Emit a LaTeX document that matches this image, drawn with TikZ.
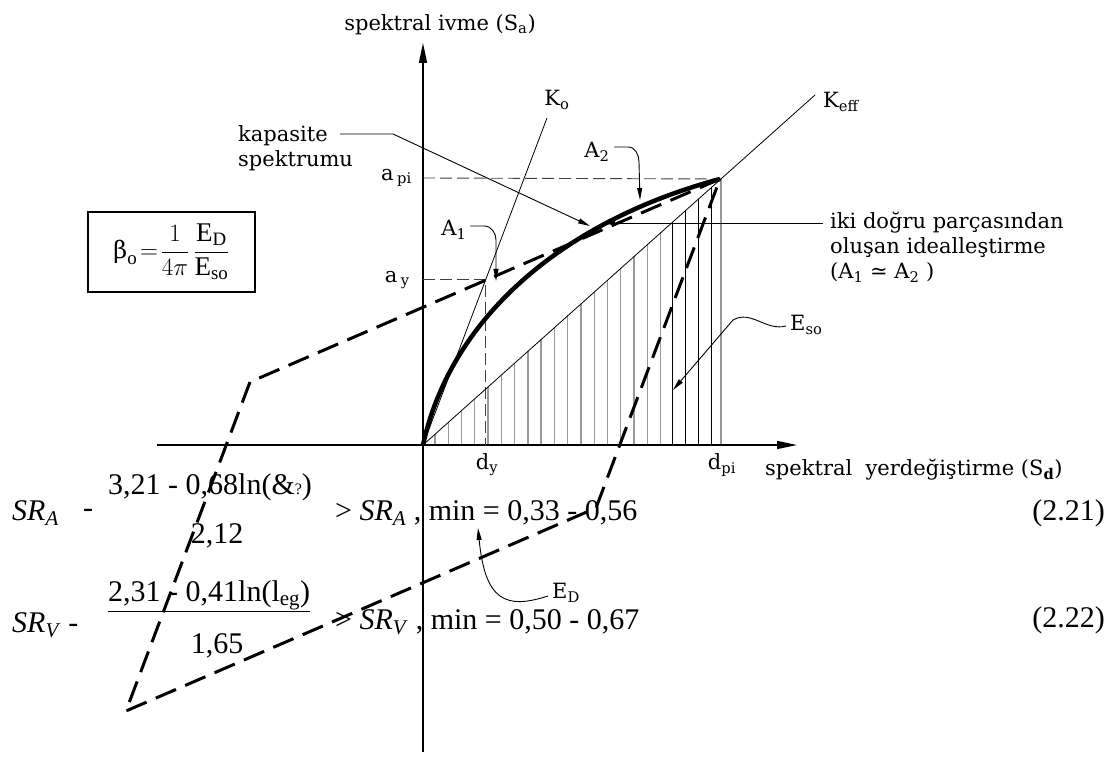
\documentclass[tikz,border=0pt]{standalone}
\usepackage{fontspec}
\setmainfont{Liberation Serif}
\newfontfamily\diag{DejaVu Serif}
\usetikzlibrary{arrows.meta}
\tikzset{
  axis/.style={line width=1.5pt,-{Triangle[length=20pt,width=8pt]}},
  guide/.style={line width=0.9pt,dash pattern=on 12pt off 5pt,black!75},
  thinln/.style={line width=0.8pt},
  bdash/.style={line width=3pt,dash pattern=on 22pt off 10pt},
  curve/.style={line width=4.5pt},
  leader/.style={line width=0.9pt,-{Triangle[length=12pt,width=5pt]}},
  lbl/.style={font=\diag\fontsize{21}{25}\selectfont,inner sep=0pt},
  eq/.style={font=\fontsize{30}{34}\selectfont,inner sep=0pt},
  hatchg/.style={line width=1.3pt,black!40},
  hatchk/.style={line width=0.9pt,black}
}
\begin{document}
\begin{tikzpicture}[x=1pt,y=-1pt]
\useasboundingbox (0,0) rectangle (1109,759);
\fill[white] (0,0) rectangle (1109,759);
% key points
\coordinate (O) at (423,445);
\coordinate (P) at (720,179);
\coordinate (Y) at (485,279);
\coordinate (Q) at (250,382);
\coordinate (R) at (126,711);
\coordinate (S) at (596,508);
\coordinate (vb) at (423,752);
\coordinate (vt) at (423,43);
\coordinate (hl) at (157,445);
\coordinate (hr) at (797,445);
\coordinate (Ko) at (547,118);
\coordinate (Keff) at (815,95);
\coordinate (apiL) at (423,178);
\coordinate (ayL) at (423,279);
\coordinate (dyB) at (485,445);
% hatching of E_so
\foreach \x in {435,448.3,461.5,474.8,488,501.3,514.6,527.9,541.1,554.4,567.7,580.9,594.2,607.5,620.8,634,647.3,660.6,721}{
  \draw[hatchg] (\x,445) -- (\x,{445-(\x-423)*0.8956});
}
\foreach \x in {672,685,698,711}{
  \draw[hatchk] (\x,445) -- (\x,{445-(\x-423)*0.8956});
}
% axes
\draw[axis] (vb) -- (vt);
\draw[axis] (hl) -- (hr);
% guides
\draw[guide] (apiL) -- (P);
\draw[guide] (ayL) -- (Y) -- (dyB);
% stiffness lines
\draw[thinln] (O) -- (Ko);
\draw[thinln] (O) -- (Keff);
% capacity curve
\draw[curve] (O) .. controls (450,320) and (560,222) .. (P);
% hysteresis loop / bilinear idealisation
\draw[bdash] (P) -- (Q) -- (R) -- (S) -- cycle;
% labels
\node[lbl] (ylab) at (440,25) {spektral ivme (S\textsubscript{a})};
\node[lbl,anchor=west] (xlab) at (765,470) {spektral\ \ yerdeğiştirme (S\textsubscript{\textbf{d}})};
\node[lbl] (dy) at (487,465) {d\textsubscript{y}};
\node[lbl] (dpi) at (722,465) {d\textsubscript{pi}};
\node[lbl,anchor=east] (api) at (412,178) {a\,\textsubscript{pi}};
\node[lbl,anchor=east] (ay) at (410,280) {a\,\textsubscript{y}};
\node[lbl] (KoL) at (557,100) {K\textsubscript{o}};
\node[lbl,anchor=west] (KeffL) at (823,102) {K\textsubscript{eff}};
\node[lbl] (A2) at (597,152) {A\textsubscript{2}};
\node[lbl] (A1) at (454,230) {A\textsubscript{1}};
\node[lbl,anchor=west,align=left] (kap) at (238,148) {kapasite\\spektrumu};
\node[lbl,anchor=north west,align=left] (iki) at (830,212) {iki doğru parçasından\\oluşan idealleştirme\\(A\textsubscript{1} ≃ A\textsubscript{2} )};
\node[lbl,anchor=west] (Eso) at (790,325) {E\textsubscript{so}};
\node[lbl,anchor=west] (ED) at (552,593) {E\textsubscript{D}};
% beta box
\node[draw,line width=1.2pt,minimum width=167pt,minimum height=80pt,inner sep=0pt,font=\fontsize{27}{32}\selectfont] (beta) at (171.5,252)
  {$\displaystyle\mbox{\diag\fontsize{24}{28}\selectfont β}_{\mathrm{o}}\!=\!\frac{1}{4\pi}\,\frac{\mathrm{E_D}}{\mathrm{E_{so}}}$};
% leaders
\coordinate (kapA) at (340,134);
\coordinate (kapB) at (393,134);
\coordinate (kapT) at (590,226);
\draw[leader] (kapA) -- (kapB) -- (kapT);
\coordinate (a2A) at (614,147);
\coordinate (a2T) at (640,200);
\draw[leader] (a2A) -- (628,147) to[out=0,in=90] (639,162) -- (a2T);
\coordinate (a1A) at (470,226);
\coordinate (a1T) at (496,281);
\draw[leader] (a1A) -- (484,226) to[out=0,in=90] (496,240) -- (a1T);
\coordinate (ikiA) at (823,223);
\coordinate (ikiT) at (603,223);
\draw[leader] (ikiA) -- (ikiT);
\coordinate (esoA) at (786,326);
\coordinate (esoT) at (673,390);
\draw[leader] (esoA) to[out=195,in=30] (733,320) -- (esoT);
\coordinate (edA) at (548,596);
\coordinate (edT) at (478,528);
\draw[leader] (edA) .. controls (505,610) and (485,600) .. (edT);
% equations
\node[eq,anchor=west] (sra) at (12,513) {\textit{SR}\textsubscript{\textit{A}}};
\node[eq] (m1) at (88,513) {-};
\node[eq,anchor=west] (n1) at (108,487) {3,21 - 0,68ln(\&{\fontsize{16}{16}\selectfont ?})};
\node[eq] (d1) at (217,536) {2,12};
\node[eq,anchor=west] (r1) at (335,513) {> \textit{SR}\textsubscript{\textit{A}} , min = 0,33 - 0,56};
\node[eq,anchor=east] (e1) at (1105,513) {(2.21)};
\node[eq,anchor=west] (srv) at (12,625) {\textit{SR}\textsubscript{\textit{V}} -};
\node[eq,anchor=west] (n2) at (108,596) {\underline{2,31 - 0,41ln(l\textsubscript{eg})}};
\node[eq] (d2) at (217,646) {1,65};
\node[eq,anchor=west] (r2) at (335,622) {> \textit{SR}\textsubscript{\textit{V}} , min = 0,50 - 0,67};
\node[eq,anchor=east] (e2) at (1105,620) {(2.22)};
\end{tikzpicture}
\end{document}
